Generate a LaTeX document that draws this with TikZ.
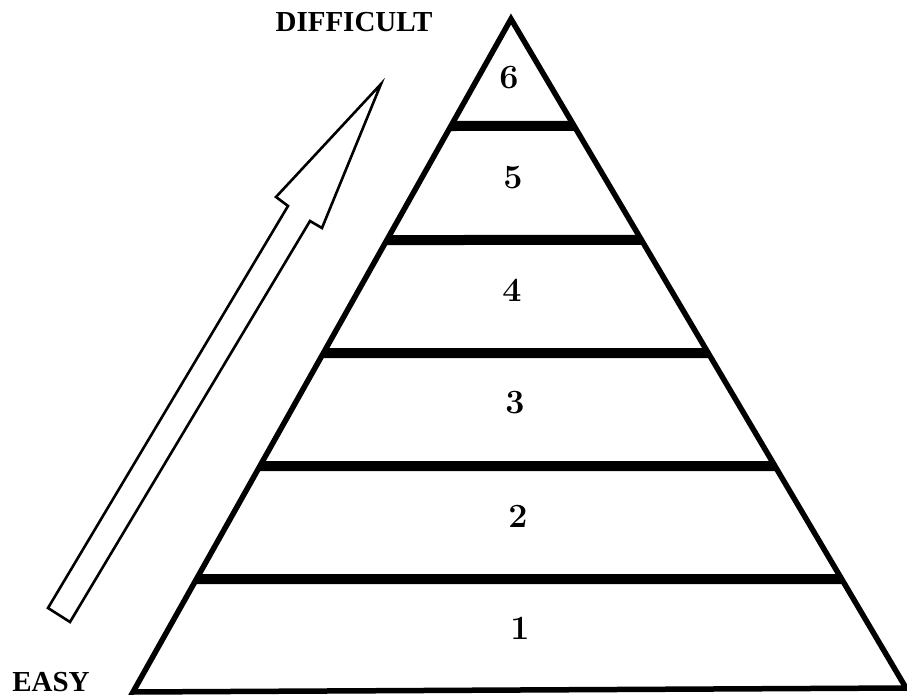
\documentclass[tikz,border=0pt]{standalone}
\usepackage{fontspec}
\newfontfamily\labelfont{Liberation Serif}
\usetikzlibrary{calc}
\begin{document}
\begin{tikzpicture}[x=1pt,y=-1pt,
  outline/.style={line width=5.5pt,line join=miter,miter limit=20},
  divider/.style={line width=10pt},
  arrowshape/.style={line width=2.6pt,line join=miter},
  levellabel/.style={font=\fontsize{34}{34}\selectfont\bfseries,inner sep=0pt},
  sidelabel/.style={font=\labelfont\fontsize{29}{29}\selectfont\bfseries,inner sep=0pt}]
\useasboundingbox (0,0) rectangle (907,700);
% pyramid
\coordinate (A) at (511,19);
\coordinate (BL) at (133,692);
\coordinate (BR) at (906,688);
\draw[outline] (A) -- (BL) -- (BR) -- cycle;
\foreach \i/\tl/\tr in {1/0.1590/0.1599,2/0.3284/0.3303,3/0.4963/0.4993,4/0.6642/0.6682,5/0.8321/0.8371}{
  \coordinate (L\i) at ($(A)!\tl!(BL)$);
  \coordinate (R\i) at ($(A)!\tr!(BR)$);
  \draw[divider] (L\i) -- (R\i);
}
% level numbers
\node[levellabel] (n6) at (509,78) {6};
\node[levellabel] (n5) at (513,178) {5};
\node[levellabel] (n4) at (512,290) {4};
\node[levellabel] (n3) at (515,403) {3};
\node[levellabel] (n2) at (518,516) {2};
\node[levellabel] (n1) at (520,628) {1};
% arrow
\coordinate (tip) at (381,84);
\coordinate (lo) at (276,197);
\coordinate (li) at (288,206);
\coordinate (bl) at (48,608);
\coordinate (br) at (70,622);
\coordinate (ri) at (310,221);
\coordinate (ro) at (322,228);
\draw[arrowshape] (tip) -- (lo) -- (li) -- (bl) -- (br) -- (ri) -- (ro) -- cycle;
% labels
\node[sidelabel] (diff) at (354,22) {DIFFICULT};
\node[sidelabel] (easy) at (51,682) {EASY};
\end{tikzpicture}
\end{document}
